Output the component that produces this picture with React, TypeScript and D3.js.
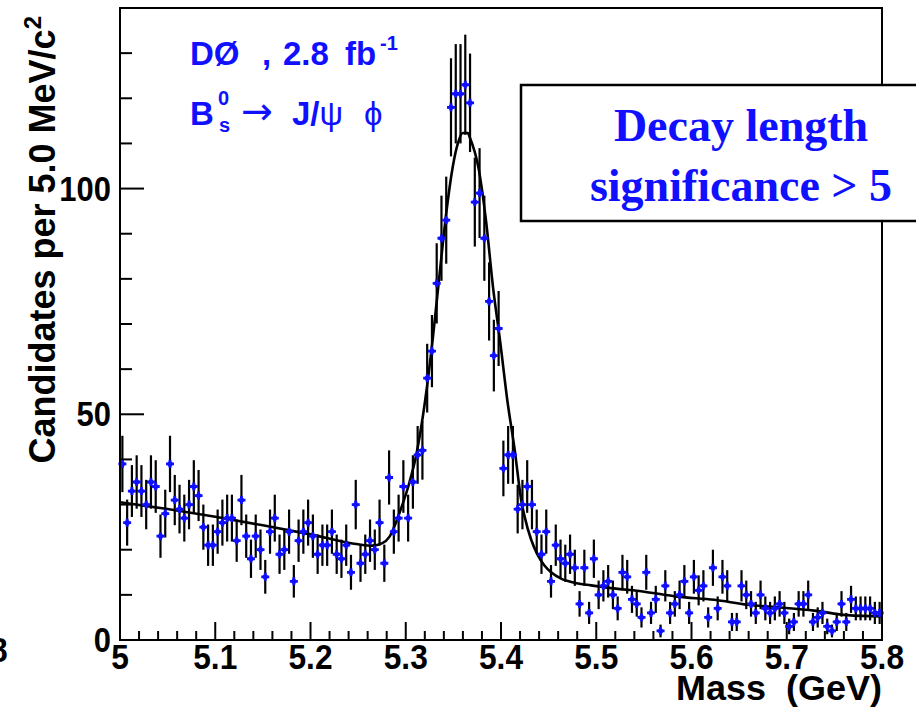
import React from 'react';
import * as d3 from 'd3';

const W = 916;
const H = 708;

// Histogram: candidates per 5 MeV bin, 5.000 - 5.800 GeV (160 bins)
const massMin = 5.0;
const massMax = 5.8;
const binWidth = 0.005;
const counts = [
  39, 26, 33, 35, 33, 30, 35, 34, 23, 28,
  39, 31, 29, 27, 30, 34, 32, 25, 21, 21,
  24, 26, 27, 27, 22, 31, 23, 18, 23, 20,
  14, 24, 27, 19, 20, 24, 13, 22, 24, 26,
  23, 19, 21, 21, 24, 19, 18, 21, 15, 30,
  17, 19, 22, 20, 26, 17, 36, 24, 27, 34,
  27, 35, 41, 42, 58, 64, 79, 89, 93, 118,
  121, 121, 123, 119, 97, 99, 89, 75, 63, 69,
  38, 41, 41, 29, 30, 34, 30, 24, 19, 24,
  13, 21, 18, 17, 19, 16, 8, 16, 6, 18,
  10, 12, 13, 10, 7, 15, 14, 9, 8, 5,
  15, 6, 9, 2, 12, 6, 8, 10, 13, 6,
  14, 11, 12, 5, 16, 7, 14, 12, 4, 4,
  12, 10, 8, 6, 10, 7, 6, 7, 8, 6,
  3, 4, 8, 8, 10, 4, 5, 6, 3, 2,
  4, 8, 4, 9, 7, 7, 7, 7, 6, 6,
];

// Fitted signal + background curve
const fitMass = [
  5.0, 5.05, 5.1, 5.15, 5.2, 5.25, 5.265, 5.275, 5.283, 5.294,
  5.304, 5.311, 5.32, 5.3285, 5.3355, 5.3425, 5.3495, 5.3547, 5.36, 5.3652,
  5.3673, 5.3767, 5.3842, 5.3917, 5.3992, 5.4067, 5.4142, 5.4216, 5.4246, 5.4317,
  5.4386, 5.4456, 5.4526, 5.4631, 5.4771, 5.4946, 5.5155, 5.5505, 5.5854, 5.6239,
  5.6588, 5.6938, 5.7287, 5.7636, 5.8,
];
const fitValue = [
  30.5, 29.0, 27.3, 25.4, 23.4, 21.2, 20.9, 21.4, 22.9, 28.5,
  35, 41, 52.5, 67, 81, 94.5, 105, 110, 112.3, 112.3,
  111.3, 104.2, 93, 78, 66, 53, 42.4, 30.5, 27.5, 22.2,
  18.8, 16.5, 15.0, 13.6, 12.7, 12.1, 11.5, 10.7, 9.6, 8.9,
  7.8, 7.2, 6.5, 5.5, 5.2,
];

const xLabelValues = [5, 5.1, 5.2, 5.3, 5.4, 5.5, 5.6, 5.7, 5.8];
const xLabels = ['5', '5.1', '5.2', '5.3', '5.4', '5.5', '5.6', '5.7', '5.8'];
const yLabelValues = [0, 50, 100];
const yLabels = ['0', '50', '100'];

const BLUE = '#1010ff';
const FONT = '"Liberation Sans", Arial, Helvetica, sans-serif';
const SERIF = '"Liberation Serif", "Times New Roman", serif';

export default function App() {
  const left = 120;
  const right = 882;
  const top = 8;
  const bottom = 640;

  const x = d3.scaleLinear().domain([massMin, massMax]).range([left, right]);
  const y = d3.scaleLinear().domain([0, 140]).range([bottom, top]);

  const fitLine = d3
    .line<number>()
    .x((_, i) => x(fitMass[i]))
    .y((d) => y(d))
    .curve(d3.curveMonotoneX);

  const xMinor = d3.range(0, 41).map((k) => massMin + k * 0.02);
  const yMinor = d3.range(0, 14).map((k) => k * 10);

  const points = counts.map((n, i) => ({
    m: massMin + binWidth * (i + 0.5),
    n,
    e: Math.sqrt(n),
  }));

  return (
    <svg
      width={W}
      height={H}
      viewBox={`0 0 ${W} ${H}`}
      style={{ position: 'absolute', left: 0, top: 0, background: '#fff' }}
    >
      <rect x={0} y={0} width={W} height={H} fill="#fff" />

      {/* axis ticks */}
      <g stroke="#000" strokeWidth={2}>
        {xMinor.map((m, k) => (
          <line
            key={`xt${k}`}
            x1={x(m)}
            x2={x(m)}
            y1={bottom}
            y2={bottom - (k % 5 === 0 ? 18 : 9)}
          />
        ))}
        {yMinor.map((v, k) => (
          <line
            key={`yt${k}`}
            x1={left}
            x2={left + (v % 50 === 0 ? 24 : 12)}
            y1={y(v)}
            y2={y(v)}
          />
        ))}
      </g>

      {/* fit */}
      <path d={fitLine(fitValue) || ''} fill="none" stroke="#000" strokeWidth={2.6} />

      {/* data points with Poisson errors */}
      <g>
        {points.map((p, i) => (
          <line
            key={`e${i}`}
            x1={x(p.m)}
            x2={x(p.m)}
            y1={y(Math.max(0, p.n - p.e))}
            y2={y(p.n + p.e)}
            stroke="#000"
            strokeWidth={2.2}
          />
        ))}
        {points.map((p, i) => {
          const cx = x(p.m);
          const cy = y(p.n);
          return (
            <g key={`m${i}`}>
              <path
                d={`M${cx - 4},${cy}H${cx + 4}M${cx},${cy - 4}V${cy + 4}`}
                stroke={BLUE}
                strokeWidth={2.8}
              />
              <circle cx={cx} cy={cy} r={2.6} fill={BLUE} />
            </g>
          );
        })}
      </g>

      {/* frame */}
      <rect
        x={left}
        y={top}
        width={right - left}
        height={bottom - top}
        fill="none"
        stroke="#000"
        strokeWidth={2}
      />

      {/* tick labels and axis titles */}
      <g fontFamily={FONT} fontWeight="bold" fontSize={36} fill="#000">
        {xLabelValues.map((v, k) => (
          <text
            key={`xl${k}`}
            textAnchor="middle"
            transform={`translate(${x(v)},${669}) scale(0.88,1)`}
          >
            {xLabels[k]}
          </text>
        ))}
        {yLabelValues.map((v, k) => (
          <text
            key={`yl${k}`}
            textAnchor="end"
            transform={`translate(${111},${y(v) + 12}) scale(0.86,1)`}
          >
            {yLabels[k]}
          </text>
        ))}
        <text
          textAnchor="end"
          style={{ whiteSpace: 'pre' }}
          transform={`translate(${right},${700}) scale(1,0.95)`}
        >
          {'Mass  (GeV)'}
        </text>
        <text textAnchor="end" transform={`translate(55,${top + 8}) rotate(-90)`}>
          Candidates per 5.0 MeV/c
          <tspan fontSize={24} dy={-14}>2</tspan>
        </text>
        <text transform="translate(-10,662) scale(0.88,1)">8</text>
      </g>

      {/* experiment label */}
      <g fill={BLUE} fontFamily={FONT} fontWeight="bold" fontSize={33}>
        <text x={190} y={65}>DØ</text>
        <text x={262} y={65}>,</text>
        <text x={283} y={65}>2.8</text>
        <text x={345} y={65}>fb</text>
        <text x={380} y={50} fontSize={20}>-1</text>
        <text x={190} y={125}>B</text>
        <text x={218} y={105} fontSize={20}>0</text>
        <text x={219} y={132} fontSize={20}>s</text>
        <text
          x={241}
          y={124}
          fontSize={38}
          fontWeight="normal"
          fontFamily='"DejaVu Sans", sans-serif'
        >
          →
        </text>
        <text x={292} y={125}>
          J/<tspan fontWeight="normal">ψ</tspan>
        </text>
        <text x={364} y={125} fontWeight="normal">ϕ</text>
      </g>

      {/* selection box */}
      <rect x={521} y={85} width={420} height={136} fill="#fff" stroke="#000" strokeWidth={2.5} />
      <g fill={BLUE} fontFamily={SERIF} fontWeight="bold" fontSize={46} textAnchor="middle">
        <text x={741} y={141}>Decay length</text>
        <text x={741} y={201}>significance &gt; 5</text>
      </g>
    </svg>
  );
}
